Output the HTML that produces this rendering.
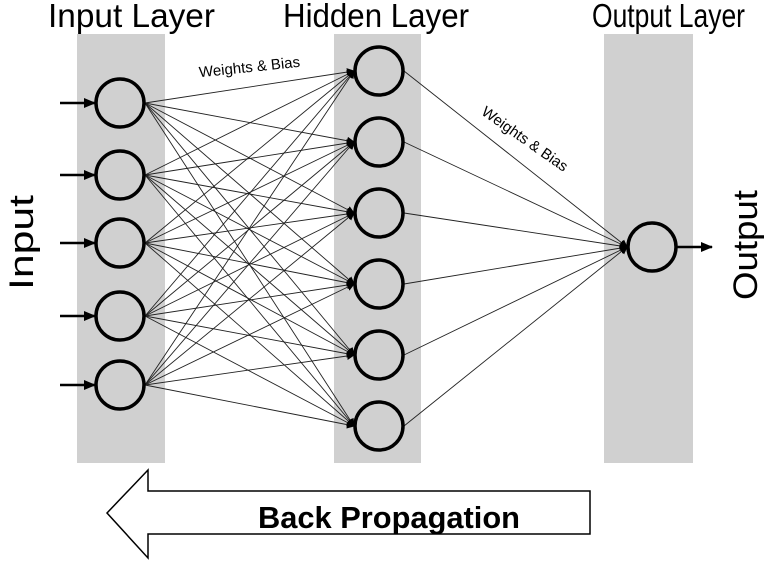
<!DOCTYPE html>
<html><head><style>
body{margin:0;background:#fff;}
svg{display:block;font-family:"Liberation Sans",sans-serif;}
</style></head><body>
<svg width="764" height="561" viewBox="0 0 764 561" xmlns="http://www.w3.org/2000/svg">
<defs>
<marker id="a" markerWidth="8" markerHeight="8" refX="7" refY="4" orient="auto" markerUnits="userSpaceOnUse"><path d="M0,0 L8,4 L0,8 z" fill="#000"/></marker>
<marker id="b" markerWidth="12" markerHeight="12" refX="11" refY="6" orient="auto" markerUnits="userSpaceOnUse"><path d="M0,1 L12,6 L0,11 z" fill="#000"/></marker>
</defs>
<rect x="77" y="34" width="88" height="429" fill="#d0d0d0"/>
<rect x="334" y="34" width="87" height="429" fill="#d0d0d0"/>
<rect x="604" y="34" width="89" height="429" fill="#d0d0d0"/>
<g font-size="33" fill="#000" lengthAdjust="spacingAndGlyphs">
<text x="48" y="27" textLength="167" lengthAdjust="spacingAndGlyphs">Input Layer</text>
<text x="283" y="27" textLength="186" lengthAdjust="spacingAndGlyphs">Hidden Layer</text>
<text x="592" y="27" textLength="153" lengthAdjust="spacingAndGlyphs">Output Layer</text>
</g>
<text transform="translate(33,290) rotate(-90)" font-size="34" textLength="95" lengthAdjust="spacingAndGlyphs">Input</text>
<text transform="translate(757,300) rotate(-90)" font-size="34" textLength="110" lengthAdjust="spacingAndGlyphs">Output</text>
<g stroke="#222" stroke-width="0.9" id="lines"></g>
<g stroke="#000" stroke-width="2.5" marker-end="url(#b)">
<line x1="60" y1="103" x2="95" y2="103"/>
<line x1="60" y1="175" x2="95" y2="175"/>
<line x1="60" y1="243" x2="95" y2="243"/>
<line x1="60" y1="316" x2="95" y2="316"/>
<line x1="60" y1="385" x2="95" y2="385"/>
<line x1="677" y1="247" x2="712" y2="247"/>
</g>
<g fill="none" stroke="#000" stroke-width="3.5" id="nodes"></g>
<text transform="translate(250,72) rotate(-6)" font-size="15" text-anchor="middle">Weights &amp; Bias</text>
<text transform="translate(522,143) rotate(35)" font-size="15" text-anchor="middle">Weights &amp; Bias</text>
<path d="M107,513 L148,470 L148,491 L590,491 L590,534 L148,534 L148,558 Z" fill="#fff" stroke="#000" stroke-width="1.5"/>
<text x="258" y="528" font-size="31" font-weight="bold" textLength="262" lengthAdjust="spacingAndGlyphs">Back Propagation</text>
<script>
var ns="http://www.w3.org/2000/svg";
var iy=[103,175,243,316,385], hy=[71,142,213,284,355,426];
var L=document.getElementById('lines'), N=document.getElementById('nodes');
function ln(x1,y1,x2,y2){var l=document.createElementNS(ns,'line');l.setAttribute('x1',x1);l.setAttribute('y1',y1);l.setAttribute('x2',x2);l.setAttribute('y2',y2);l.setAttribute('marker-end','url(#a)');L.appendChild(l);}
iy.forEach(function(a){hy.forEach(function(b){ln(145,a,354,b);});});
hy.forEach(function(b){ln(404,b,627,247);});
function c(x,y,r){var e=document.createElementNS(ns,'circle');e.setAttribute('cx',x);e.setAttribute('cy',y);e.setAttribute('r',r);N.appendChild(e);}
iy.forEach(function(a){c(120,a,24);});
hy.forEach(function(b){c(379,b,24);});
c(652,247,24);
</script>
</svg>
</body></html>
